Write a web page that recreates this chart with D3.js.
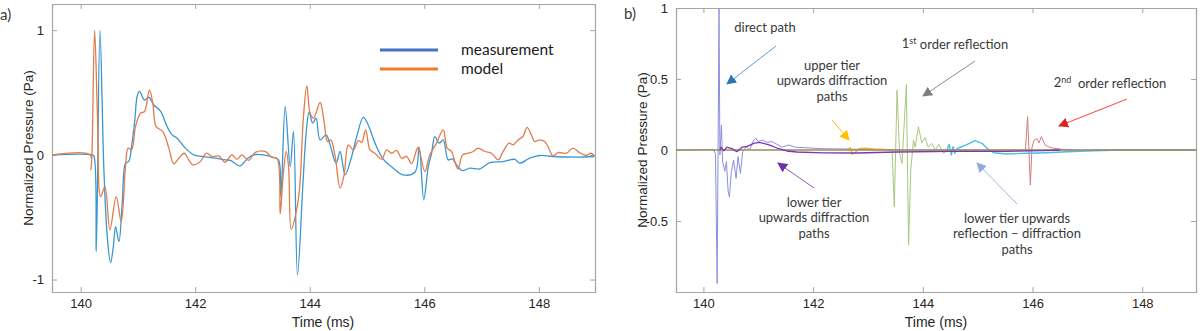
<!DOCTYPE html>
<html lang="en">
<head>
	<meta charset="UTF-8">
	<title>Normalized pressure vs time</title>
	<script src="https://cdn.jsdelivr.net/npm/d3@7"></script>
	<style>
		body { margin: 0; background: #fff; }
		svg { display: block; }
		.tick text { font-family: "Liberation Sans", Arial, sans-serif; font-size: 13px; fill: #262626; }
		.axlabel { font-family: "Liberation Sans", Arial, sans-serif; font-size: 14px; fill: #262626; }
		.note { font-family: Lato, "Open Sans", sans-serif; font-size: 13px; fill: #3a3a3a; }
	</style>
</head>
<body>
<svg id="chart" width="1200" height="331"></svg>
<script>

// ---- data ----
const xTicks = [140, 142, 144, 146, 148];
const yTicksA = [-1, 0, 1];
const yTicksB = [-0.5, 0, 0.5, 1];

// panel a) measurement
const measT = [139.5, 140.2, 140.232, 140.273, 140.337, 140.406, 140.465, 140.523, 140.57, 140.61, 140.668, 140.726, 140.784, 140.842, 140.889, 140.946, 140.987, 141.028, 141.115, 141.19, 141.278, 141.394, 141.51, 141.597, 141.684, 141.829, 141.974, 142.12, 142.35, 142.526, 142.613, 142.787, 142.9, 143.02, 143.19, 143.37, 143.455, 143.496, 143.571, 143.659, 143.716, 143.786, 143.879, 143.937, 143.99, 144.05, 144.11, 144.18, 144.286, 144.355, 144.46, 144.53, 144.617, 144.716, 144.82, 144.936, 145.02, 145.14, 145.284, 145.458, 145.63, 145.836, 145.91, 145.99, 146.07, 146.127, 146.185, 146.26, 146.33, 146.416, 146.49, 146.562, 146.667, 146.794, 146.97, 147.143, 147.375, 147.58, 147.666, 147.84, 148.014, 148.246, 148.653, 148.97];
const measV = [0, 0, -0.01, -0.776, 1.0, -0.12, -0.656, -0.865, -0.74, -0.576, -0.696, -0.39, -0.067, -0.05, 0.069, 0.28, 0.47, 0.509, 0.44, 0.462, 0.40, 0.35, 0.227, 0.16, 0.133, 0.054, 0, -0.013, -0.027, -0.04, -0.045, -0.088, -0.035, 0, 0, -0.02, -0.04, -0.335, 0.388, -0.094, 0.187, -0.964, -0.25, 0.174, 0.345, 0.254, 0.295, 0.12, 0.16, 0.08, -0.067, 0.027, -0.16, -0.04, 0.147, 0.30, 0.24, 0.094, -0.035, -0.107, -0.16, -0.14, 0.06, -0.36, -0.094, 0.013, 0.147, 0.094, 0.12, -0.04, -0.033, -0.08, -0.126, -0.107, -0.113, -0.062, -0.054, -0.036, -0.067, -0.027, -0.005, -0.013, -0.018, -0.013];

// panel a) model
const modelT = [139.5, 140.163, 140.18, 140.197, 140.244, 140.296, 140.348, 140.424, 140.511, 140.621, 140.708, 140.784, 140.83, 140.889, 140.958, 141.045, 141.115, 141.202, 141.26, 141.318, 141.435, 141.54, 141.626, 141.713, 141.81, 141.887, 141.957, 142.09, 142.195, 142.294, 142.42, 142.52, 142.64, 142.73, 142.817, 142.93, 143.05, 143.22, 143.34, 143.43, 143.484, 143.53, 143.59, 143.63, 143.676, 143.746, 143.82, 143.89, 143.949, 144.007, 144.066, 144.18, 144.25, 144.31, 144.367, 144.443, 144.53, 144.6, 144.674, 144.76, 144.85, 144.906, 144.976, 145.052, 145.14, 145.255, 145.343, 145.43, 145.517, 145.604, 145.69, 145.778, 145.865, 145.894, 146.01, 146.097, 146.213, 146.33, 146.4, 146.475, 146.533, 146.59, 146.667, 146.766, 146.853, 146.94, 147.056, 147.172, 147.29, 147.375, 147.48, 147.55, 147.636, 147.723, 147.793, 147.869, 147.927, 148.014, 148.1, 148.159, 148.246, 148.333, 148.48, 148.594, 148.71, 148.83, 148.91, 148.97];
const modelV = [0, 0, -0.12, 0, 1.0, 0.28, -0.335, -0.254, -0.602, -0.335, -0.536, -0.09, 0.054, 0.04, 0.227, 0.334, 0.348, 0.522, 0.415, 0.227, 0.187, 0.054, -0.072, -0.027, 0.013, -0.04, -0.08, -0.054, 0.013, -0.013, -0.01, -0.06, 0, -0.035, 0, -0.045, 0.02, 0.027, -0.02, -0.03, -0.474, -0.2, 0.027, -0.094, -0.597, -0.495, -0.28, 0.307, 0.554, 0.334, 0.294, 0.42, 0.267, 0.107, 0.12, -0.013, -0.267, -0.16, 0.08, 0.04, 0.114, 0.1, 0.2, 0.04, 0.013, -0.035, 0.04, 0.013, 0.035, -0.027, -0.013, -0.07, 0.04, 0.062, -0.134, 0, 0.094, 0.2, 0.054, 0.027, -0.054, -0.115, 0, 0.013, 0.027, 0.054, 0.027, 0.013, -0.04, 0.027, 0.094, 0.08, 0.12, 0.147, 0.22, 0.16, 0.107, 0.12, 0.107, 0.067, -0.008, 0.018, 0.013, 0.054, 0.018, -0.005, 0.013, -0.008];

// panel b) paths
const baseT = [139.5, 148.98];
const baseV = [0, 0];

const directT = [139.5, 140.19, 140.22, 140.25, 140.285, 140.30, 140.328, 140.35, 140.39, 140.42, 140.45, 140.474, 140.51, 140.55, 140.595, 140.632, 140.674, 140.716, 140.778, 140.84, 140.917, 140.96, 141.0, 141.07, 141.16, 141.25, 141.34, 141.43, 141.55, 141.676, 141.858, 142.16, 142.587, 143.01, 144.0, 146.0, 148.98];
const directV = [0, 0.003, -0.03, -0.94, 1.0, -0.035, 0.176, -0.08, -0.15, -0.08, -0.29, -0.33, -0.15, -0.07, -0.2, -0.047, -0.165, -0.012, 0.023, 0, 0.07, 0.082, 0.059, 0.07, 0.054, 0.059, 0.04, 0.02, 0.035, 0.02, 0.016, 0.009, 0.007, 0.002, 0, 0, 0];

const lowerT = [140.3, 140.32, 140.37, 140.43, 140.52, 140.61, 140.705, 140.8, 140.917, 141.01, 141.1, 141.22, 141.34, 141.52, 141.7, 142.19, 142.8, 143.53, 144.5, 145.5, 146.2, 146.5];
const lowerV = [0, 0.02, -0.005, 0.02, 0.01, -0.012, 0.02, 0.026, 0.047, 0.054, 0.047, 0.033, 0.014, -0.007, -0.014, -0.02, -0.021, -0.014, -0.01, -0.01, -0.005, 0];

const upperT = [142.6, 142.62, 142.68, 142.71, 142.76, 142.83, 142.95, 143.1, 143.31, 143.4];
const upperV = [0, 0.003, 0.016, -0.03, -0.02, 0.009, 0.013, 0.008, 0.005, 0];

const firstT = [143.44, 143.48, 143.53, 143.576, 143.62, 143.7, 143.74, 143.78, 143.83, 143.86, 143.92, 143.98, 144.04, 144.1, 144.16, 144.23, 144.29, 144.38, 144.44, 144.62, 144.8];
const firstV = [0, -0.40, 0.42, -0.02, -0.094, 0.46, -0.67, -0.14, 0.07, 0.02, 0.164, 0.05, 0.087, 0.02, 0.047, 0, 0.04, -0.023, 0, -0.01, 0];

const reflDiffT = [144.44, 144.48, 144.52, 144.55, 144.58, 144.63, 144.71, 144.81, 144.95, 145.08, 145.17, 145.29, 145.53, 145.9, 146.26, 146.63, 147.11, 147.6, 148.98];
const reflDiffV = [0, 0.04, -0.035, 0.023, -0.023, 0.012, 0.023, 0.04, 0.066, 0.047, 0.012, -0.019, -0.028, -0.023, -0.019, -0.012, -0.005, 0, 0];

const secondT = [145.87, 145.91, 145.96, 145.99, 146.03, 146.08, 146.12, 146.16, 146.23, 146.29, 146.38, 146.53, 146.74];
const secondV = [0, 0.235, -0.246, 0.02, 0.07, 0.08, 0.05, 0.094, 0.035, 0.023, 0.012, 0.005, 0];

// ---- layout ----
const svg = d3.select('#chart');
const boxColor = '#a6a6a6';

function makePanel(box, yDomain, yTicks){
	const x = d3.scaleLinear().domain([139.5, 148.98]).range([box.left, box.right]);
	const y = d3.scaleLinear().domain(yDomain).range([box.bottom, box.top]);
	const g = svg.append('g');

	const clipId = 'clip' + box.left;
	svg.append('clipPath').attr('id', clipId)
		.append('rect')
		.attr('x', box.left).attr('y', box.top)
		.attr('width', box.right - box.left).attr('height', box.bottom - box.top);

	const fmt = d => String(d);
	g.append('g').attr('transform', `translate(0,${box.bottom})`)
		.call(d3.axisBottom(x).tickValues(xTicks).tickSize(-5).tickPadding(7).tickFormat(fmt));
	g.append('g').attr('transform', `translate(0,${box.top})`)
		.call(d3.axisTop(x).tickValues(xTicks).tickSize(-5).tickFormat(''));
	g.append('g').attr('transform', `translate(${box.left},0)`)
		.call(d3.axisLeft(y).tickValues(yTicks).tickSize(-5).tickPadding(8).tickFormat(fmt));
	g.append('g').attr('transform', `translate(${box.right},0)`)
		.call(d3.axisRight(y).tickValues(yTicks).tickSize(-5).tickFormat(''));
	g.selectAll('.domain').attr('stroke', boxColor).attr('stroke-width', 1.2);
	g.selectAll('.tick line').attr('stroke', boxColor);

	const plot = svg.append('g').attr('clip-path', `url(#${clipId})`);
	return {x, y, g, plot};
}

function drawLine(p, ts, vs, color, width, curve){
	const pts = ts.map((t, i) => [t, vs[i]]);
	const line = d3.line()
		.x(d => p.x(d[0]))
		.y(d => p.y(d[1]))
		.curve(curve || d3.curveLinear);
	p.plot.append('path')
		.datum(pts)
		.attr('d', line)
		.attr('fill', 'none')
		.attr('stroke', color)
		.attr('stroke-width', width)
		.attr('stroke-linejoin', 'round');
}

// ---- panel a ----
const pa = makePanel({left: 52, right: 595, top: 4, bottom: 292}, [-1.1, 1.21], yTicksA);
drawLine(pa, measT, measV, '#3a96d2', 1.3, d3.curveCatmullRom.alpha(0.5));
drawLine(pa, modelT, modelV, '#e27c4c', 1.3, d3.curveCatmullRom.alpha(0.5));

svg.append('text').attr('class', 'axlabel').style('font-size', '13.5px')
	.attr('transform', 'translate(28,148) rotate(-90)')
	.attr('text-anchor', 'middle').attr('dy', '0.35em')
	.text('Normalized Pressure (Pa)');
svg.append('text').attr('class', 'axlabel')
	.attr('x', 323).attr('y', 322).attr('text-anchor', 'middle').attr('dy', '0.35em')
	.text('Time (ms)');
svg.append('text').attr('class', 'note').style('font-size', '15px')
	.attr('x', 0).attr('y', 20).text('a)');

// legend
const legendItems = [
	{label: 'measurement', color: '#4472c4', y: 50},
	{label: 'model', color: '#ed7d31', y: 69}
];
const legend = svg.append('g');
legend.selectAll('line').data(legendItems).join('line')
	.attr('x1', 380).attr('x2', 438)
	.attr('y1', d => d.y).attr('y2', d => d.y)
	.attr('stroke', d => d.color).attr('stroke-width', 3);
legend.selectAll('text').data(legendItems).join('text')
	.attr('class', 'note').style('font-size', '15.5px').style('fill', '#1a1a1a')
	.attr('x', 461).attr('y', d => d.y).attr('dy', '0.32em')
	.text(d => d.label);

// ---- panel b ----
const pb = makePanel({left: 676, right: 1196, top: 8, bottom: 292}, [-1, 1], yTicksB);
drawLine(pb, directT, directV, '#8e8ee0', 1);
drawLine(pb, firstT, firstV, '#a9c77f', 1);
drawLine(pb, secondT, secondV, '#d27b7b', 1);
drawLine(pb, reflDiffT, reflDiffV, '#4cbde6', 1.4);
drawLine(pb, upperT, upperV, '#f2b21c', 1.3);
drawLine(pb, baseT, baseV, '#9c8c5c', 1.6);
drawLine(pb, lowerT, lowerV, '#7a3aa8', 1.3);

svg.append('text').attr('class', 'axlabel').style('font-size', '13.5px')
	.attr('transform', 'translate(642,150) rotate(-90)')
	.attr('text-anchor', 'middle').attr('dy', '0.35em')
	.text('Normalized Pressure (Pa)');
svg.append('text').attr('class', 'axlabel')
	.attr('x', 936).attr('y', 322).attr('text-anchor', 'middle').attr('dy', '0.35em')
	.text('Time (ms)');
svg.append('text').attr('class', 'note').style('font-size', '15px')
	.attr('x', 624).attr('y', 19).text('b)');

// annotations
const notes = [
	{lines: ['direct path'], x: 765, y: 27},
	{lines: ['upper tier', 'upwards diffraction', 'paths'], x: 832, y: 65},
	{lines: ['lower tier', 'upwards diffraction', 'paths'], x: 814, y: 202},
	{lines: ['lower tier upwards', 'reflection \u2013 diffraction', 'paths'], x: 1017, y: 218}
];
notes.forEach(n => {
	const t = svg.append('text').attr('class', 'note').attr('text-anchor', 'middle');
	n.lines.forEach((s, i) => {
		t.append('tspan').attr('x', n.x).attr('y', n.y + i * 15.6).attr('dy', '0.35em').text(s);
	});
});

const sup = [
	{base: '1', sup: 'st', rest: ' order reflection', x: 955, y: 43},
	{base: '2', sup: 'nd', rest: '  order reflection', x: 1110, y: 82}
];
sup.forEach(n => {
	const t = svg.append('text').attr('class', 'note').attr('text-anchor', 'middle')
		.attr('x', n.x).attr('y', n.y).attr('dy', '0.35em').attr('xml:space', 'preserve');
	t.append('tspan').text(n.base);
	t.append('tspan').attr('dy', '-0.45em').style('font-size', '9px').text(n.sup);
	t.append('tspan').attr('dy', '0.45em').text(n.rest);
});

// arrows
const arrows = [
	{x1: 776, y1: 46, x2: 727, y2: 84, color: '#5b9bd5', head: '#2e75b6'},
	{x1: 832, y1: 120, x2: 849, y2: 140, color: '#ffc000', head: '#ffc000'},
	{x1: 814, y1: 188, x2: 778, y2: 163, color: '#8b5cc4', head: '#7030a0'},
	{x1: 975, y1: 61, x2: 923, y2: 96, color: '#8c8c8c', head: '#7f7f7f'},
	{x1: 1127, y1: 99, x2: 1059, y2: 126, color: '#ff4040', head: '#e02020'},
	{x1: 1017, y1: 204, x2: 977, y2: 163, color: '#9fb6e0', head: '#8faadc'}
];
const defs = svg.append('defs');
arrows.forEach((a, i) => {
	defs.append('marker').attr('id', 'ah' + i)
		.attr('viewBox', '0 0 10 10').attr('refX', 9).attr('refY', 5)
		.attr('markerWidth', 10).attr('markerHeight', 10)
		.attr('markerUnits', 'userSpaceOnUse').attr('orient', 'auto')
		.append('path').attr('d', 'M0,0 L10,5 L0,10 z').attr('fill', a.head);
	svg.append('line')
		.attr('x1', a.x1).attr('y1', a.y1).attr('x2', a.x2).attr('y2', a.y2)
		.attr('stroke', a.color).attr('stroke-width', 1)
		.attr('marker-end', `url(#ah${i})`);
});

</script>
</body>
</html>
